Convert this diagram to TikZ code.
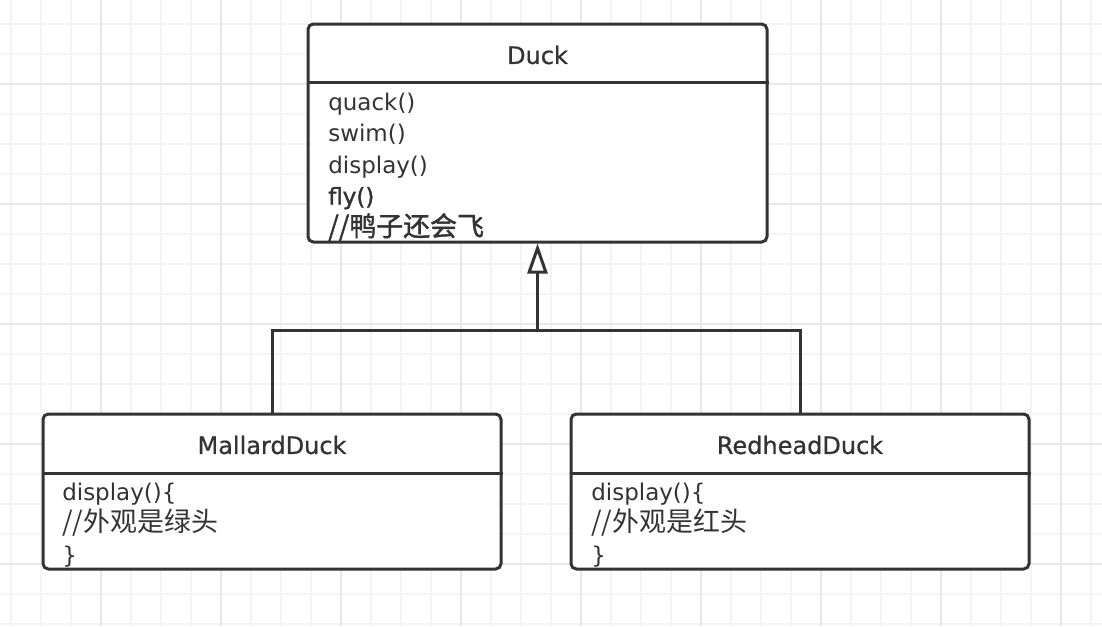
\documentclass[tikz,border=0pt]{standalone}
\usepackage{fontspec}
\setmainfont{DejaVu Sans}
\newfontfamily\cjk[Scale=1.17]{Noto Sans CJK SC}
\newfontfamily\cjkb[Scale=1.17,FakeBold=1.6]{Noto Sans CJK SC}
\newfontfamily\semib[FakeBold=1.6]{DejaVu Sans}
\newfontfamily\hdrf[FakeBold=0.7]{DejaVu Sans}
\usetikzlibrary{arrows.meta}
\definecolor{ink}{HTML}{333333}
\definecolor{gridminor}{HTML}{F4F4F4}
\definecolor{gridmajor}{HTML}{E8E8E8}
\begin{document}
\begin{tikzpicture}[x=0.75pt,y=-0.75pt,
  umlbox/.style={draw=ink, line width=2.25pt, rounded corners=4pt, fill=white, inner sep=0pt},
  hdr/.style={text=ink, font=\hdrf\fontsize{18}{22}\selectfont, inner sep=0pt},
  member/.style={text=ink, font=\fontsize{17.25}{21}\selectfont, anchor=base west, inner sep=0pt},
  divider/.style={draw=ink, line width=2.25pt},
  link/.style={draw=ink, line width=2.25pt},
  minorline/.style={draw=gridminor, line width=1.1pt},
  majorline/.style={draw=gridmajor, line width=1.1pt}]
\useasboundingbox (0,0) rectangle (1102,626);
\fill[white] (0,0) rectangle (1102,626);
% grid
\foreach \x in {11,41,...,1091} \draw[minorline] (\x,0) -- (\x,626);
\foreach \y in {24,54,...,624} \draw[minorline] (0,\y) -- (1102,\y);
\foreach \x in {101,221,...,1061} \draw[majorline] (\x,0) -- (\x,626);
\foreach \y in {84,204,...,564} \draw[majorline] (0,\y) -- (1102,\y);

% boxes
\node[umlbox, minimum width=344.25pt, minimum height=163.5pt] (duck) at (537.5,133) {};
\node[umlbox, minimum width=343.5pt, minimum height=116.25pt] (mallard) at (272,491.5) {};
\node[umlbox, minimum width=343.5pt, minimum height=116.25pt] (redhead) at (800,491.5) {};

\draw[divider] (duck.west |- 0,82) -- (duck.east |- 0,82);
\draw[divider] (mallard.west |- 0,473) -- (mallard.east |- 0,473);
\draw[divider] (redhead.west |- 0,473) -- (redhead.east |- 0,473);

% headers
\node[hdr] (duckname) at (537.5,55) {Duck};
\node[hdr] (mallardname) at (272,445) {MallardDuck};
\node[hdr] (redheadname) at (800,445) {RedheadDuck};

% Duck members
\node[member] (d1) at (328,110) {quack()};
\node[member] (d2) at (328,141.5) {swim()};
\node[member] (d3) at (328,173) {display()};
\node[member, font=\semib\fontsize{17.25}{21}\selectfont] (d4) at (328,204.5) {fly()};
\node[member, font=\cjkb\fontsize{17.25}{21}\selectfont] (d5) at (328,236) {//鸭子还会飞};

% Mallard members
\node[member] (m1) at (62,500) {display()\{};
\node[member, font=\cjk\fontsize{17.25}{21}\selectfont] (m2) at (62,531.5) {//外观是绿头};
\node[member] (m3) at (62,563) {\}};

% Redhead members
\node[member] (r1) at (591,500) {display()\{};
\node[member, font=\cjk\fontsize{17.25}{21}\selectfont] (r2) at (591,531.5) {//外观是红头};
\node[member] (r3) at (591,563) {\}};

% inheritance
\coordinate (j) at (537.5,330);
\draw[link] (mallard.north) |- (j) -| (redhead.north);
\draw[link, -{Triangle[open, length=22.5pt, width=15pt, fill=white]}] (j) -- (duck.south);
\end{tikzpicture}
\end{document}
